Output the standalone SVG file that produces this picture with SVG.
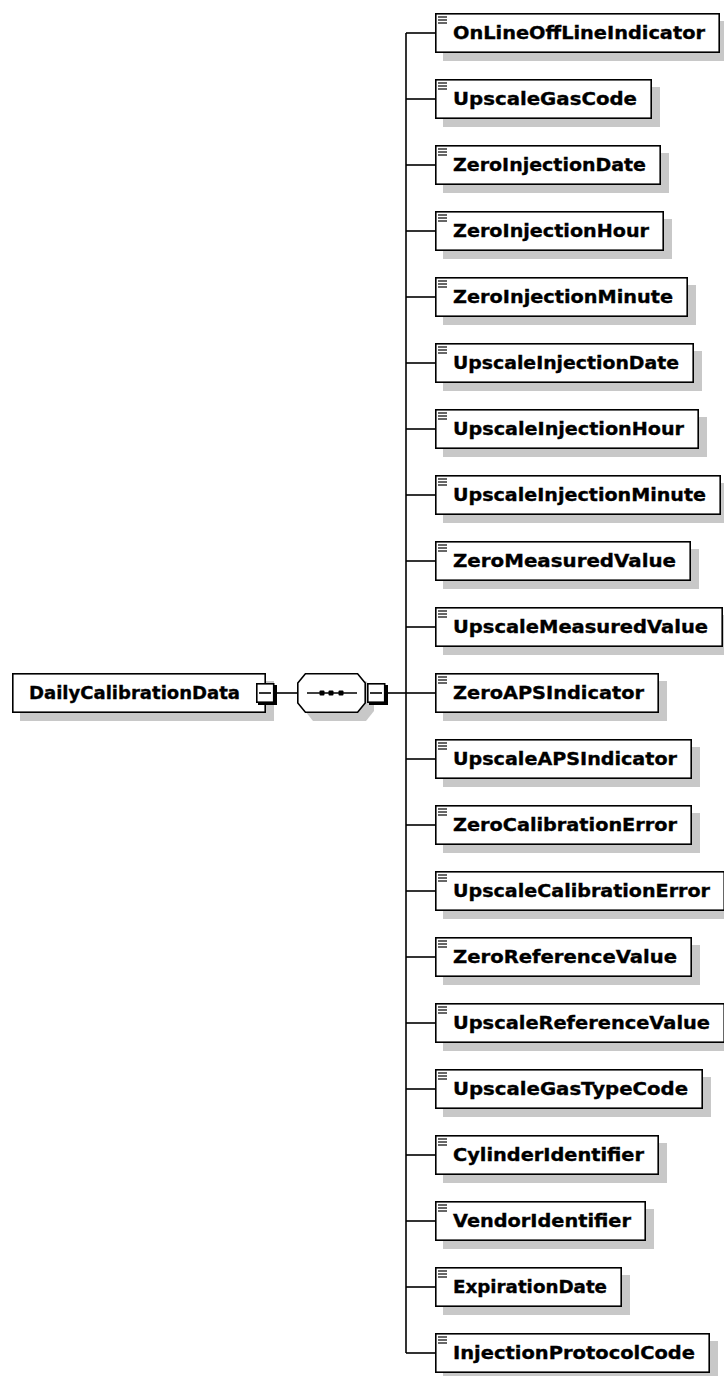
<svg xmlns="http://www.w3.org/2000/svg" width="724" height="1376" viewBox="0 0 724 1376">
<style>
.bg{fill:#ffffff}
.shadow{fill:#c8c8c8}
.box{fill:#ffffff;stroke:#000;stroke-width:1.6}
.lbl{font-family:"DejaVu Sans","Liberation Sans",sans-serif;font-weight:bold;font-size:18px;fill:#000;stroke:#000;stroke-width:0.35}
.conn{stroke:#000;stroke-width:1.6;fill:none}
.icon{stroke:#000;stroke-width:1.2}
.mbshadow{fill:#000}
</style>
<defs>
<g id="ico"><line class="icon" x1="3" y1="4" x2="12" y2="4"/><line class="icon" x1="3" y1="7" x2="12" y2="7"/><line class="icon" x1="3" y1="10" x2="12" y2="10"/></g>
</defs>
<rect class="bg" x="0" y="0" width="724" height="1376"/>
<g id="connectors">
<line class="conn" x1="277" y1="693" x2="297" y2="693"/>
<line class="conn" x1="387" y1="693" x2="406" y2="693"/>
<line class="conn" x1="406" y1="33" x2="406" y2="1353"/>
<line class="conn" x1="406" y1="33" x2="435" y2="33"/>
<line class="conn" x1="406" y1="99" x2="435" y2="99"/>
<line class="conn" x1="406" y1="165" x2="435" y2="165"/>
<line class="conn" x1="406" y1="231" x2="435" y2="231"/>
<line class="conn" x1="406" y1="297" x2="435" y2="297"/>
<line class="conn" x1="406" y1="363" x2="435" y2="363"/>
<line class="conn" x1="406" y1="429" x2="435" y2="429"/>
<line class="conn" x1="406" y1="495" x2="435" y2="495"/>
<line class="conn" x1="406" y1="561" x2="435" y2="561"/>
<line class="conn" x1="406" y1="627" x2="435" y2="627"/>
<line class="conn" x1="406" y1="693" x2="435" y2="693"/>
<line class="conn" x1="406" y1="759" x2="435" y2="759"/>
<line class="conn" x1="406" y1="825" x2="435" y2="825"/>
<line class="conn" x1="406" y1="891" x2="435" y2="891"/>
<line class="conn" x1="406" y1="957" x2="435" y2="957"/>
<line class="conn" x1="406" y1="1023" x2="435" y2="1023"/>
<line class="conn" x1="406" y1="1089" x2="435" y2="1089"/>
<line class="conn" x1="406" y1="1155" x2="435" y2="1155"/>
<line class="conn" x1="406" y1="1221" x2="435" y2="1221"/>
<line class="conn" x1="406" y1="1287" x2="435" y2="1287"/>
<line class="conn" x1="406" y1="1353" x2="435" y2="1353"/>
</g>
<g id="root">
<rect class="shadow" x="20" y="681" width="254" height="40"/>
<rect class="box" x="12.8" y="673.8" width="252.4" height="38.4"/>
<text class="lbl" x="29" y="699" textLength="211" lengthAdjust="spacingAndGlyphs">DailyCalibrationData</text>
<rect class="mbshadow" x="258" y="685" width="19" height="20"/>
<rect class="box" x="256.8" y="683.8" width="16.9" height="18.4"/>
<line class="conn" x1="259" y1="693" x2="271" y2="693"/>
</g>
<g id="sequence">
<polygon class="shadow" points="305,691 313,681 366,681 374,691 374,711 366,721 313,721 305,711"/>
<polygon class="box" points="297.8,683 305.4,673.8 357.6,673.8 365.2,683 365.2,703 357.6,712.2 305.4,712.2 297.8,703"/>
<line class="conn" x1="307" y1="693" x2="357" y2="693"/>
<rect x="319.5" y="690.5" width="5" height="5" rx="1" fill="#000"/>
<rect x="328.5" y="690.5" width="5" height="5" rx="1" fill="#000"/>
<rect x="338.5" y="690.5" width="5" height="5" rx="1" fill="#000"/>
<rect class="mbshadow" x="369" y="685" width="19" height="20"/>
<rect class="box" x="367.8" y="683.8" width="16.9" height="18.4"/>
<line class="conn" x1="370" y1="693" x2="382" y2="693"/>
</g>
<g id="e0"><rect class="shadow" x="443" y="21" width="285" height="40"/><rect class="box" x="435.8" y="13.8" width="283.4" height="38.4"/><use href="#ico" x="435" y="13"/><text class="lbl" x="453" y="39" textLength="252" lengthAdjust="spacingAndGlyphs">OnLineOffLineIndicator</text></g>
<g id="e1"><rect class="shadow" x="443" y="87" width="217" height="40"/><rect class="box" x="435.8" y="79.8" width="215.4" height="38.4"/><use href="#ico" x="435" y="79"/><text class="lbl" x="453" y="105" textLength="184" lengthAdjust="spacingAndGlyphs">UpscaleGasCode</text></g>
<g id="e2"><rect class="shadow" x="443" y="153" width="226" height="40"/><rect class="box" x="435.8" y="145.8" width="224.4" height="38.4"/><use href="#ico" x="435" y="145"/><text class="lbl" x="453" y="171" textLength="193" lengthAdjust="spacingAndGlyphs">ZeroInjectionDate</text></g>
<g id="e3"><rect class="shadow" x="443" y="219" width="229" height="40"/><rect class="box" x="435.8" y="211.8" width="227.4" height="38.4"/><use href="#ico" x="435" y="211"/><text class="lbl" x="453" y="237" textLength="196" lengthAdjust="spacingAndGlyphs">ZeroInjectionHour</text></g>
<g id="e4"><rect class="shadow" x="443" y="285" width="253" height="40"/><rect class="box" x="435.8" y="277.8" width="251.4" height="38.4"/><use href="#ico" x="435" y="277"/><text class="lbl" x="453" y="303" textLength="220" lengthAdjust="spacingAndGlyphs">ZeroInjectionMinute</text></g>
<g id="e5"><rect class="shadow" x="443" y="351" width="259" height="40"/><rect class="box" x="435.8" y="343.8" width="257.4" height="38.4"/><use href="#ico" x="435" y="343"/><text class="lbl" x="453" y="369" textLength="226" lengthAdjust="spacingAndGlyphs">UpscaleInjectionDate</text></g>
<g id="e6"><rect class="shadow" x="443" y="417" width="264" height="40"/><rect class="box" x="435.8" y="409.8" width="262.4" height="38.4"/><use href="#ico" x="435" y="409"/><text class="lbl" x="453" y="435" textLength="231" lengthAdjust="spacingAndGlyphs">UpscaleInjectionHour</text></g>
<g id="e7"><rect class="shadow" x="443" y="483" width="286" height="40"/><rect class="box" x="435.8" y="475.8" width="284.4" height="38.4"/><use href="#ico" x="435" y="475"/><text class="lbl" x="453" y="501" textLength="253" lengthAdjust="spacingAndGlyphs">UpscaleInjectionMinute</text></g>
<g id="e8"><rect class="shadow" x="443" y="549" width="256" height="40"/><rect class="box" x="435.8" y="541.8" width="254.4" height="38.4"/><use href="#ico" x="435" y="541"/><text class="lbl" x="453" y="567" textLength="223" lengthAdjust="spacingAndGlyphs">ZeroMeasuredValue</text></g>
<g id="e9"><rect class="shadow" x="443" y="615" width="288" height="40"/><rect class="box" x="435.8" y="607.8" width="286.4" height="38.4"/><use href="#ico" x="435" y="607"/><text class="lbl" x="453" y="633" textLength="255" lengthAdjust="spacingAndGlyphs">UpscaleMeasuredValue</text></g>
<g id="e10"><rect class="shadow" x="443" y="681" width="224" height="40"/><rect class="box" x="435.8" y="673.8" width="222.4" height="38.4"/><use href="#ico" x="435" y="673"/><text class="lbl" x="453" y="699" textLength="191" lengthAdjust="spacingAndGlyphs">ZeroAPSIndicator</text></g>
<g id="e11"><rect class="shadow" x="443" y="747" width="257" height="40"/><rect class="box" x="435.8" y="739.8" width="255.4" height="38.4"/><use href="#ico" x="435" y="739"/><text class="lbl" x="453" y="765" textLength="224" lengthAdjust="spacingAndGlyphs">UpscaleAPSIndicator</text></g>
<g id="e12"><rect class="shadow" x="443" y="813" width="257" height="40"/><rect class="box" x="435.8" y="805.8" width="255.4" height="38.4"/><use href="#ico" x="435" y="805"/><text class="lbl" x="453" y="831" textLength="224" lengthAdjust="spacingAndGlyphs">ZeroCalibrationError</text></g>
<g id="e13"><rect class="shadow" x="443" y="879" width="290" height="40"/><rect class="box" x="435.8" y="871.8" width="288.4" height="38.4"/><use href="#ico" x="435" y="871"/><text class="lbl" x="453" y="897" textLength="257" lengthAdjust="spacingAndGlyphs">UpscaleCalibrationError</text></g>
<g id="e14"><rect class="shadow" x="443" y="945" width="257" height="40"/><rect class="box" x="435.8" y="937.8" width="255.4" height="38.4"/><use href="#ico" x="435" y="937"/><text class="lbl" x="453" y="963" textLength="224" lengthAdjust="spacingAndGlyphs">ZeroReferenceValue</text></g>
<g id="e15"><rect class="shadow" x="443" y="1011" width="290" height="40"/><rect class="box" x="435.8" y="1003.8" width="288.4" height="38.4"/><use href="#ico" x="435" y="1003"/><text class="lbl" x="453" y="1029" textLength="257" lengthAdjust="spacingAndGlyphs">UpscaleReferenceValue</text></g>
<g id="e16"><rect class="shadow" x="443" y="1077" width="268" height="40"/><rect class="box" x="435.8" y="1069.8" width="266.4" height="38.4"/><use href="#ico" x="435" y="1069"/><text class="lbl" x="453" y="1095" textLength="235" lengthAdjust="spacingAndGlyphs">UpscaleGasTypeCode</text></g>
<g id="e17"><rect class="shadow" x="443" y="1143" width="224" height="40"/><rect class="box" x="435.8" y="1135.8" width="222.4" height="38.4"/><use href="#ico" x="435" y="1135"/><text class="lbl" x="453" y="1161" textLength="191" lengthAdjust="spacingAndGlyphs">CylinderIdentifier</text></g>
<g id="e18"><rect class="shadow" x="443" y="1209" width="211" height="40"/><rect class="box" x="435.8" y="1201.8" width="209.4" height="38.4"/><use href="#ico" x="435" y="1201"/><text class="lbl" x="453" y="1227" textLength="178" lengthAdjust="spacingAndGlyphs">VendorIdentifier</text></g>
<g id="e19"><rect class="shadow" x="443" y="1275" width="187" height="40"/><rect class="box" x="435.8" y="1267.8" width="185.4" height="38.4"/><use href="#ico" x="435" y="1267"/><text class="lbl" x="453" y="1293" textLength="154" lengthAdjust="spacingAndGlyphs">ExpirationDate</text></g>
<g id="e20"><rect class="shadow" x="443" y="1341" width="275" height="40"/><rect class="box" x="435.8" y="1333.8" width="273.4" height="38.4"/><use href="#ico" x="435" y="1333"/><text class="lbl" x="453" y="1359" textLength="242" lengthAdjust="spacingAndGlyphs">InjectionProtocolCode</text></g>
</svg>
